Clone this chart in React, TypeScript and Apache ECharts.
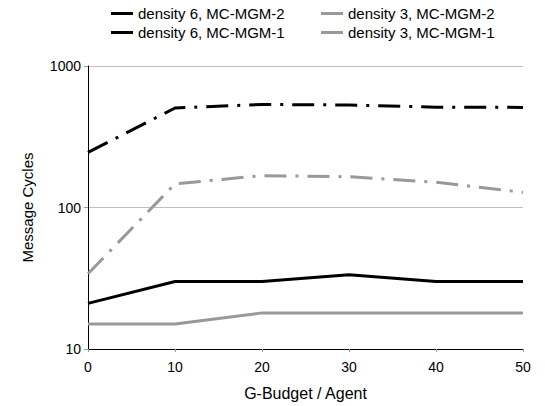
import React, { useEffect, useRef } from "react";
import * as echarts from "echarts";

const budgets = [0, 10, 20, 30, 40, 50];
const d6mgm2 = [245, 505, 535, 530, 512, 510];
const d3mgm2 = [34, 147, 168, 165, 151, 128];
const d6mgm1 = [21, 30, 30, 33.5, 30, 30];
const d3mgm1 = [15, 15, 18, 18, 18, 18];
const names = [
  "density 6, MC-MGM-2",
  "density 6, MC-MGM-1",
  "density 3, MC-MGM-2",
  "density 3, MC-MGM-1",
];

const FONT = "'Liberation Sans', Arial, sans-serif";

export default function App() {
  const ref = useRef<HTMLDivElement>(null);
  useEffect(() => {
    if (!ref.current) return;
    const chart = echarts.init(ref.current, undefined, { renderer: "svg" });
    const pair = (ys: number[]) => budgets.map((x, i) => [x, ys[i]]);
    const black = "#000000";
    const gray = "#999999";
    const legendCommon = {
      orient: "vertical" as const,
      top: 1,
      itemWidth: 22,
      itemHeight: 3,
      itemGap: 4,
      icon: "rect",
      textStyle: { fontFamily: FONT, fontSize: 15, color: "#000" },
      selectedMode: false,
    };
    chart.setOption({
      animation: false,
      backgroundColor: "#fff",
      legend: [
        { ...legendCommon, left: 106, data: [names[0], names[1]] },
        { ...legendCommon, left: 316, data: [names[2], names[3]] },
      ],
      grid: { left: 88, right: 22, top: 66, bottom: 57 },
      xAxis: {
        type: "value",
        min: 0,
        max: 50,
        interval: 10,
        name: "G-Budget / Agent",
        nameLocation: "middle",
        nameGap: 36,
        nameTextStyle: { fontFamily: FONT, fontSize: 16, color: "#000" },
        axisLine: { lineStyle: { color: "#000", width: 1 } },
        axisTick: { show: true, length: 3, lineStyle: { color: "#999" } },
        axisLabel: { fontFamily: FONT, fontSize: 14, color: "#000", margin: 11 },
        splitLine: { show: false },
      },
      yAxis: {
        type: "log",
        logBase: 10,
        min: 10,
        max: 1000,
        name: "Message Cycles",
        nameLocation: "middle",
        nameGap: 53,
        nameTextStyle: { fontFamily: FONT, fontSize: 15, color: "#000" },
        axisLine: { show: true, lineStyle: { color: "#000", width: 1 } },
        axisTick: { show: true, length: 4, lineStyle: { color: "#999" } },
        minorTick: { show: false },
        axisLabel: {
          fontFamily: FONT,
          fontSize: 14,
          color: "#000",
          margin: 7,
          formatter: (v: number) => String(Math.round(v)),
        },
        splitLine: { show: true, lineStyle: { color: "#c0c0c0", width: 1 } },
      },
      series: [
        {
          name: names[0],
          type: "line",
          data: pair(d6mgm2),
          symbol: "none",
          color: black,
          lineStyle: { color: black, width: 3, type: [22, 9, 3, 9] },
        },
        {
          name: names[1],
          type: "line",
          data: pair(d6mgm1),
          symbol: "none",
          color: black,
          lineStyle: { color: black, width: 3 },
        },
        {
          name: names[2],
          type: "line",
          data: pair(d3mgm2),
          symbol: "none",
          color: gray,
          lineStyle: { color: gray, width: 3, type: [22, 9, 3, 9] },
        },
        {
          name: names[3],
          type: "line",
          data: pair(d3mgm1),
          symbol: "none",
          color: gray,
          lineStyle: { color: gray, width: 3 },
        },
      ],
    });
    return () => chart.dispose();
  }, []);
  return <div ref={ref} style={{ width: 545, height: 406, position: "absolute", left: 0, top: 0 }} />;
}
